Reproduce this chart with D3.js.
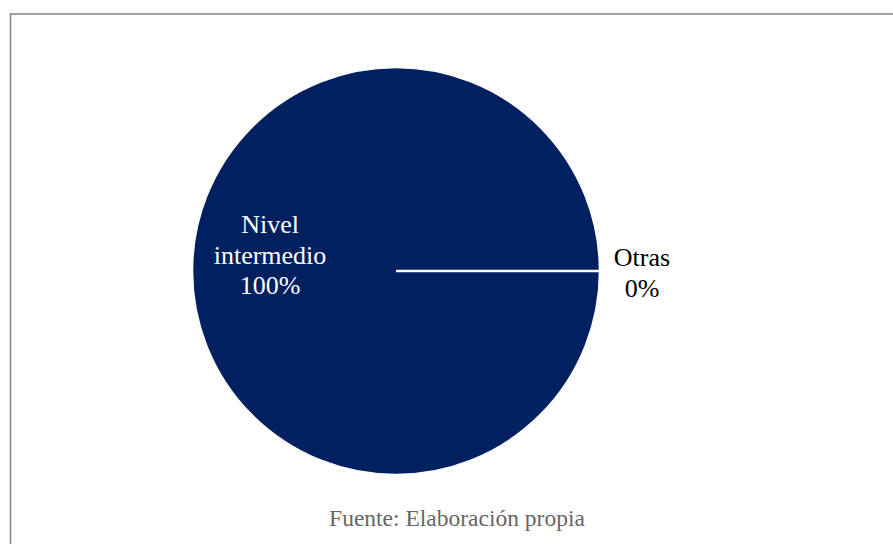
<!DOCTYPE html>
<html>
<head>
<meta charset="utf-8">
<script src="https://cdn.jsdelivr.net/npm/d3@7"></script>
<style>
  html, body { margin: 0; padding: 0; background: #fff; overflow: hidden; }
  svg { display: block; }
  svg text { font-family: "Liberation Serif", Tinos, "Times New Roman", serif; }
</style>
</head>
<body>
<svg id="chart" width="893" height="544"></svg>
<script>
// data
const categories = ["Nivel intermedio", "Otras"];
const values = [100, 0];
const pctLabels = ["100%", "0%"];
const source = "Fuente: Elaboración propia";

const W = 893, H = 544;
const cx = 396, cy = 271, R = 204;

const svg = d3.select("#chart");

// frame (runs off the right and bottom edges)
svg.append("rect")
    .attr("x", 10.5).attr("y", 14)
    .attr("width", 1000).attr("height", 1000)
    .attr("fill", "none").attr("stroke", "#8c8c8c").attr("stroke-width", 1.6);

const pie = d3.pie().sort(null)
    .startAngle(Math.PI / 2).endAngle(Math.PI / 2 + 2 * Math.PI)
    .value(d => d.value);
const arcs = pie(categories.map((c, i) => ({ name: c, value: values[i], pct: pctLabels[i] })));

const arc = d3.arc().innerRadius(0).outerRadius(R);

const g = svg.append("g").attr("transform", `translate(${cx},${cy})`);

g.selectAll("path.slice").data(arcs).enter().append("path")
    .attr("class", "slice")
    .attr("d", arc)
    .attr("fill", "#002060")
    .attr("stroke", "#fff").attr("stroke-width", 2.5);

// labels
const labelPos = [
    { x: 270 - cx, top: 233 - cy, color: "#fff" },
    { x: 642 - cx, top: 266 - cy, color: "#000" }
];
arcs.forEach((d, i) => {
    const p = labelPos[i];
    const lines = i === 0 ? d.data.name.split(" ").concat([d.data.pct]) : [d.data.name, d.data.pct];
    const t = g.append("text")
        .attr("text-anchor", "middle")
        .style("font-size", "26px")
        .attr("fill", p.color);
    lines.forEach((l, j) => {
        t.append("tspan").attr("x", p.x).attr("y", p.top + j * 30.5).text(l);
    });
});

svg.append("text")
    .attr("x", 457).attr("y", 526)
    .attr("text-anchor", "middle")
    .style("font-size", "23.5px")
    .attr("fill", "#666")
    .text(source);
</script>
</body>
</html>
